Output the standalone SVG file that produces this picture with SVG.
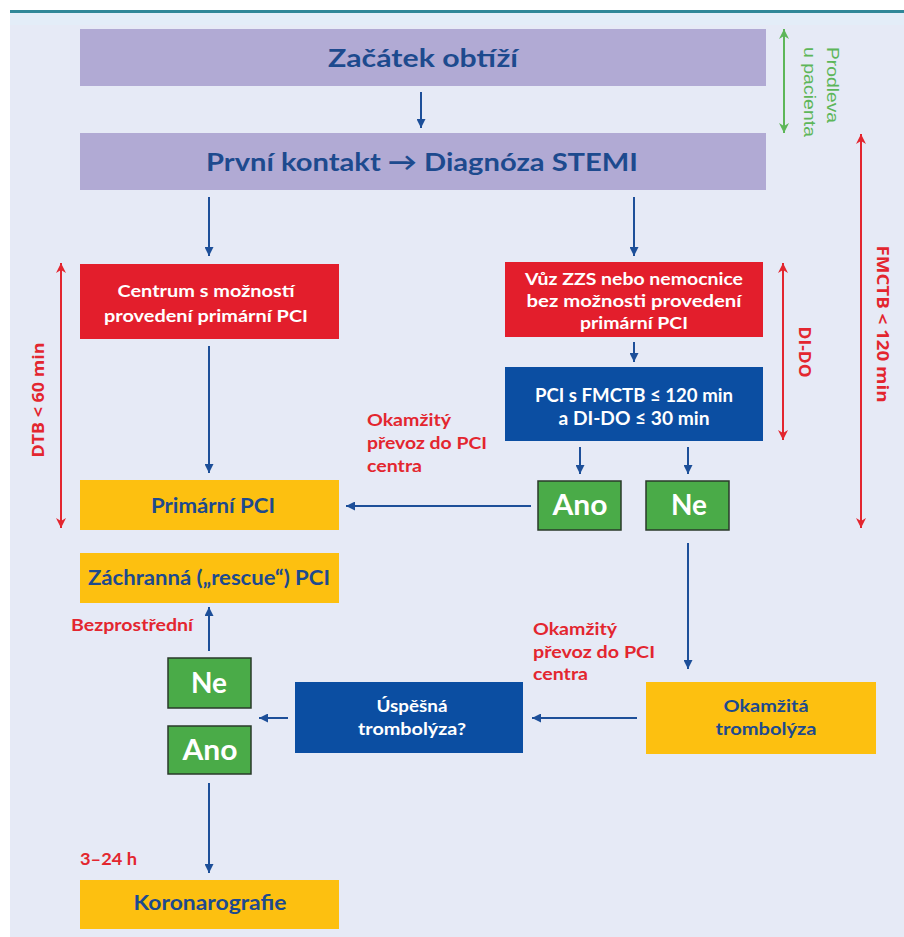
<svg xmlns="http://www.w3.org/2000/svg" width="904" height="937" viewBox="0 0 904 937">
<defs>
<style>
.t{font-family:Lato,"Open Sans","Liberation Sans",sans-serif;font-weight:700;text-anchor:middle}
.bl{fill:#1d4a8e}
.wh{fill:#ffffff}
.rd{fill:#e3262f}
.lbl{font-family:Lato,"Open Sans","Liberation Sans",sans-serif;font-weight:700;font-size:17px;fill:#e3262f}
.dim{font-family:"Open Sans","Liberation Sans",sans-serif;font-weight:700;font-size:16px;fill:#e3262f;text-anchor:middle}
.c{stroke:#1d4f99;stroke-width:2;fill:none}
.rl{stroke:#e3262f;stroke-width:2;fill:none}
.gl{stroke:#5db659;stroke-width:2;fill:none}
.pur{fill:#b1aad4}
.red{fill:#e31e2c}
.dbl{fill:#0b4ea2}
.yel{fill:#fdc010}
.grn{fill:#4aab48;stroke:#2a3a2a;stroke-width:1.5}
</style>
<marker id="ab" viewBox="0 0 10 10" refX="10" refY="5" markerWidth="9" markerHeight="9" markerUnits="userSpaceOnUse" orient="auto"><path d="M0,0 L10,5 L0,10 z" fill="#1d4f99"/></marker>
<marker id="ar" viewBox="0 0 10 10" refX="10" refY="5" markerWidth="10" markerHeight="10" markerUnits="userSpaceOnUse" orient="auto-start-reverse"><path d="M0,0 L10,5 L0,10 L3,5 z" fill="#e3262f"/></marker>
<marker id="ag" viewBox="0 0 10 10" refX="10" refY="5" markerWidth="10" markerHeight="10" markerUnits="userSpaceOnUse" orient="auto-start-reverse"><path d="M0,0 L10,5 L0,10 L3,5 z" fill="#5db659"/></marker>
</defs>
<rect x="0" y="0" width="904" height="937" fill="#ffffff"/>
<rect x="10" y="11" width="894" height="926" fill="#e6eaf6"/>
<rect x="10" y="13" width="894" height="12" fill="#e3edf8"/>
<rect x="10" y="10" width="894" height="3" fill="#2f8798"/>

<g id="connectors">
<line class="c" x1="421" y1="92" x2="421" y2="128" marker-end="url(#ab)"/>
<line class="c" x1="209" y1="197" x2="209" y2="256" marker-end="url(#ab)"/>
<line class="c" x1="634" y1="197" x2="634" y2="256" marker-end="url(#ab)"/>
<line class="c" x1="634" y1="342" x2="634" y2="362" marker-end="url(#ab)"/>
<line class="c" x1="209" y1="346" x2="209" y2="473" marker-end="url(#ab)"/>
<line class="c" x1="580" y1="447" x2="580" y2="474" marker-end="url(#ab)"/>
<line class="c" x1="688" y1="447" x2="688" y2="474" marker-end="url(#ab)"/>
<line class="c" x1="531" y1="506" x2="346" y2="506" marker-end="url(#ab)"/>
<line class="c" x1="688" y1="543" x2="688" y2="669" marker-end="url(#ab)"/>
<line class="c" x1="637" y1="718" x2="532" y2="718" marker-end="url(#ab)"/>
<line class="c" x1="288" y1="718" x2="259" y2="718" marker-end="url(#ab)"/>
<line class="c" x1="209" y1="651" x2="209" y2="607" marker-end="url(#ab)"/>
<line class="c" x1="209" y1="783" x2="209" y2="873" marker-end="url(#ab)"/>
</g>

<g id="dim-prodleva">
<line class="gl" x1="784" y1="29" x2="784" y2="133" marker-start="url(#ag)" marker-end="url(#ag)"/>
<text transform="translate(827,47) rotate(90)" font-family="'Liberation Sans',Arial,sans-serif" font-size="17" fill="#5db659" textLength="76" lengthAdjust="spacingAndGlyphs">Prodleva</text>
<text transform="translate(804,47) rotate(90)" font-family="'Liberation Sans',Arial,sans-serif" font-size="17" fill="#5db659" textLength="90" lengthAdjust="spacingAndGlyphs">u pacienta</text>
</g>
<g id="dim-fmctb">
<line class="rl" x1="861" y1="134" x2="861" y2="528" marker-start="url(#ar)" marker-end="url(#ar)"/>
<text class="dim" transform="translate(877,324) rotate(90)" textLength="157" lengthAdjust="spacingAndGlyphs">FMCTB &lt; 120 min</text>
</g>
<g id="dim-dido">
<line class="rl" x1="783" y1="263" x2="783" y2="440" marker-start="url(#ar)" marker-end="url(#ar)"/>
<text class="dim" transform="translate(799,352) rotate(90)" textLength="51" lengthAdjust="spacingAndGlyphs">DI-DO</text>
</g>
<g id="dim-dtb">
<line class="rl" x1="61" y1="263" x2="61" y2="528" marker-start="url(#ar)" marker-end="url(#ar)"/>
<text class="dim" transform="translate(44,400) rotate(-90)" textLength="115" lengthAdjust="spacingAndGlyphs">DTB &lt; 60 min</text>
</g>

<g id="n-zacatek">
<rect class="pur" x="80" y="29" width="686" height="57"/>
<text class="t bl" x="423" y="67" font-size="25" textLength="190" lengthAdjust="spacingAndGlyphs">Začátek obtíží</text>
</g>
<g id="n-prvni">
<rect class="pur" x="80" y="133" width="686" height="57"/>
<text class="t bl" x="422" y="171" font-size="25" textLength="432" lengthAdjust="spacingAndGlyphs">První kontakt → Diagnóza STEMI</text>
</g>
<g id="n-centrum">
<rect class="red" x="80" y="264" width="259" height="75"/>
<text class="t wh" x="206" y="297" font-size="17" textLength="177" lengthAdjust="spacingAndGlyphs">Centrum s možností</text>
<text class="t wh" x="206" y="322" font-size="17" textLength="204" lengthAdjust="spacingAndGlyphs">provedení primární PCI</text>
</g>
<g id="n-vuz">
<rect class="red" x="505" y="262" width="258" height="75"/>
<text class="t wh" x="634" y="285" font-size="17" textLength="218" lengthAdjust="spacingAndGlyphs">Vůz ZZS nebo nemocnice</text>
<text class="t wh" x="634" y="307" font-size="17" textLength="215" lengthAdjust="spacingAndGlyphs">bez možnosti provedení</text>
<text class="t wh" x="634" y="329" font-size="17" textLength="108" lengthAdjust="spacingAndGlyphs">primární PCI</text>
</g>
<g id="n-pcis">
<rect class="dbl" x="505" y="367" width="258" height="74"/>
<text class="t wh" x="634" y="402" font-size="18" textLength="198" lengthAdjust="spacingAndGlyphs">PCI s FMCTB ≤ 120 min</text>
<text class="t wh" x="634" y="425" font-size="18" textLength="151" lengthAdjust="spacingAndGlyphs">a DI-DO ≤ 30 min</text>
</g>
<g id="n-ano1">
<rect class="grn" x="538" y="481" width="83" height="49"/>
<text class="t wh" x="580" y="515" font-size="28" textLength="55" lengthAdjust="spacingAndGlyphs">Ano</text>
</g>
<g id="n-ne1">
<rect class="grn" x="646" y="481" width="83" height="49"/>
<text class="t wh" x="689" y="515" font-size="28" textLength="36" lengthAdjust="spacingAndGlyphs">Ne</text>
</g>
<g id="n-primarni">
<rect class="yel" x="80" y="480" width="259" height="50"/>
<text class="t bl" x="213" y="513" font-size="20" textLength="124" lengthAdjust="spacingAndGlyphs">Primární PCI</text>
</g>
<g id="n-zachranna">
<rect class="yel" x="80" y="553" width="259" height="50"/>
<text class="t bl" x="209" y="585" font-size="20" textLength="242" lengthAdjust="spacingAndGlyphs">Záchranná („rescue“) PCI</text>
</g>
<g id="n-ne2">
<rect class="grn" x="168" y="658" width="83" height="50"/>
<text class="t wh" x="209" y="693" font-size="28" textLength="36" lengthAdjust="spacingAndGlyphs">Ne</text>
</g>
<g id="n-ano2">
<rect class="grn" x="168" y="726" width="83" height="48"/>
<text class="t wh" x="210" y="760" font-size="28" textLength="55" lengthAdjust="spacingAndGlyphs">Ano</text>
</g>
<g id="n-uspesna">
<rect class="dbl" x="295" y="682" width="228" height="71"/>
<text class="t wh" x="412" y="712" font-size="17" textLength="71" lengthAdjust="spacingAndGlyphs">Úspěšná</text>
<text class="t wh" x="412" y="735" font-size="17" textLength="108" lengthAdjust="spacingAndGlyphs">trombolýza?</text>
</g>
<g id="n-okamzita">
<rect class="yel" x="646" y="682" width="230" height="72"/>
<text class="t bl" x="766" y="712" font-size="17" textLength="85" lengthAdjust="spacingAndGlyphs">Okamžitá</text>
<text class="t bl" x="766" y="735" font-size="17" textLength="101" lengthAdjust="spacingAndGlyphs">trombolýza</text>
</g>
<g id="n-koronarografie">
<rect class="yel" x="80" y="880" width="259" height="49"/>
<text class="t bl" x="210" y="910" font-size="20" textLength="153" lengthAdjust="spacingAndGlyphs">Koronarografie</text>
</g>

<g id="labels">
<text class="lbl" x="367" y="426" textLength="84" lengthAdjust="spacingAndGlyphs">Okamžitý</text>
<text class="lbl" x="367" y="449" textLength="120" lengthAdjust="spacingAndGlyphs">převoz do PCI</text>
<text class="lbl" x="367" y="472" textLength="55" lengthAdjust="spacingAndGlyphs">centra</text>
<text class="lbl" x="533" y="635" textLength="84" lengthAdjust="spacingAndGlyphs">Okamžitý</text>
<text class="lbl" x="533" y="658" textLength="122" lengthAdjust="spacingAndGlyphs">převoz do PCI</text>
<text class="lbl" x="533" y="680" textLength="55" lengthAdjust="spacingAndGlyphs">centra</text>
<text class="lbl" x="71" y="631" textLength="122" lengthAdjust="spacingAndGlyphs">Bezprostřední</text>
<text class="lbl" x="80" y="865" textLength="57" lengthAdjust="spacingAndGlyphs">3–24 h</text>
</g>
</svg>
